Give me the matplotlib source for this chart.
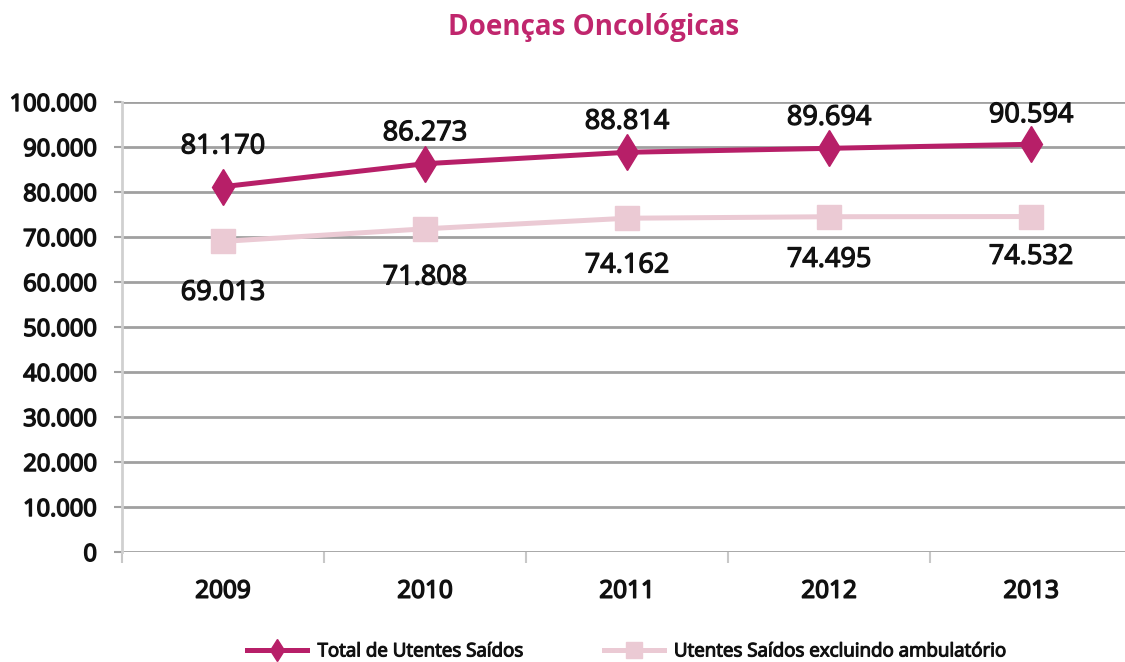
import matplotlib.pyplot as plt
import matplotlib.patheffects as pe
import numpy as np

years = ['2009', '2010', '2011', '2012', '2013']
total = [81170, 86273, 88814, 89694, 90594]
excl = [69013, 71808, 74162, 74495, 74532]
total_labels = ['81.170', '86.273', '88.814', '89.694', '90.594']
excl_labels = ['69.013', '71.808', '74.162', '74.495', '74.532']
yticks = np.arange(0, 100001, 10000)
ytick_labels = ['0'] + ['{:,}'.format(v).replace(',', '.') for v in yticks[1:]]

# label offsets (points) as placed in the original
top_off = [29, 22, 22, 22, 21]
bot_off = [-37, -35, -34, -31, -29]

dark = '#B71F68'
light = '#EBCAD4'

plt.rcParams['font.family'] = ['Open Sans', 'DejaVu Sans']

# fake a semibold weight with a thin outline
semi = [pe.withStroke(linewidth=0.9, foreground='#111111')]

fig = plt.figure(figsize=(11.25, 6.62), dpi=100)
ax = fig.add_axes([0.1084, 0.1662, 0.898, 0.6798])

x = np.arange(len(years))
ax.plot(x, total, color=dark, lw=3.6, marker='d', markersize=18, label='Total de Utentes Saídos', zorder=4)
ax.plot(x, excl, color=light, lw=3.6, marker='s', markersize=17, label='Utentes Saídos excluindo ambulatório', zorder=3)

for xi, v, lab, o in zip(x, total, total_labels, top_off):
    ax.annotate(lab, (xi, v), xytext=(0, o), textcoords='offset points', ha='center', va='center',
                fontsize=19.5, color='#111111', path_effects=semi)
for xi, v, lab, o in zip(x, excl, excl_labels, bot_off):
    ax.annotate(lab, (xi, v), xytext=(0, o), textcoords='offset points', ha='center', va='center',
                fontsize=19.5, color='#111111', path_effects=semi)

ax.set_xlim(-0.5, 4.5)
ax.set_ylim(0, 100000)
ax.set_yticks(yticks)
ax.set_yticklabels(ytick_labels, fontsize=17, color='#111111')
ax.set_xticks(x)
ax.set_xticklabels(years, fontsize=17.5, color='#111111')
for t in ax.get_xticklabels() + ax.get_yticklabels():
    t.set_path_effects([pe.withStroke(linewidth=1.1, foreground='#111111')])
ax.tick_params(axis='x', length=0, pad=20)
ax.set_xticks(np.arange(-0.5, 4.6, 1), minor=True)
ax.tick_params(axis='x', which='minor', length=8, width=1.5, color='#C8C8C8')
ax.tick_params(axis='y', length=6, width=1.5, color='#A0A0A0', pad=12)
ax.grid(axis='y', color='#A0A0A0', lw=2)
ax.set_axisbelow(True)
for s in ['top', 'right', 'bottom']:
    ax.spines[s].set_visible(False)
ax.spines['left'].set_color('#D0D0D0')
ax.spines['left'].set_linewidth(2)

fig.text(0.528, 0.958, 'Doenças Oncológicas', ha='center', va='center', fontsize=20,
         fontweight='bold', color='#C0266D')

leg = fig.legend(loc='center', bbox_to_anchor=(0.557, 0.016), ncol=2, frameon=False,
                 prop={'size': 13.5}, handlelength=3.2, handletextpad=0.55,
                 columnspacing=4.3, markerscale=0.65)
for t in leg.get_texts():
    t.set_color('#111111')
    t.set_path_effects([pe.withStroke(linewidth=0.8, foreground='#111111')])

fig.savefig('out.png', dpi=100)
